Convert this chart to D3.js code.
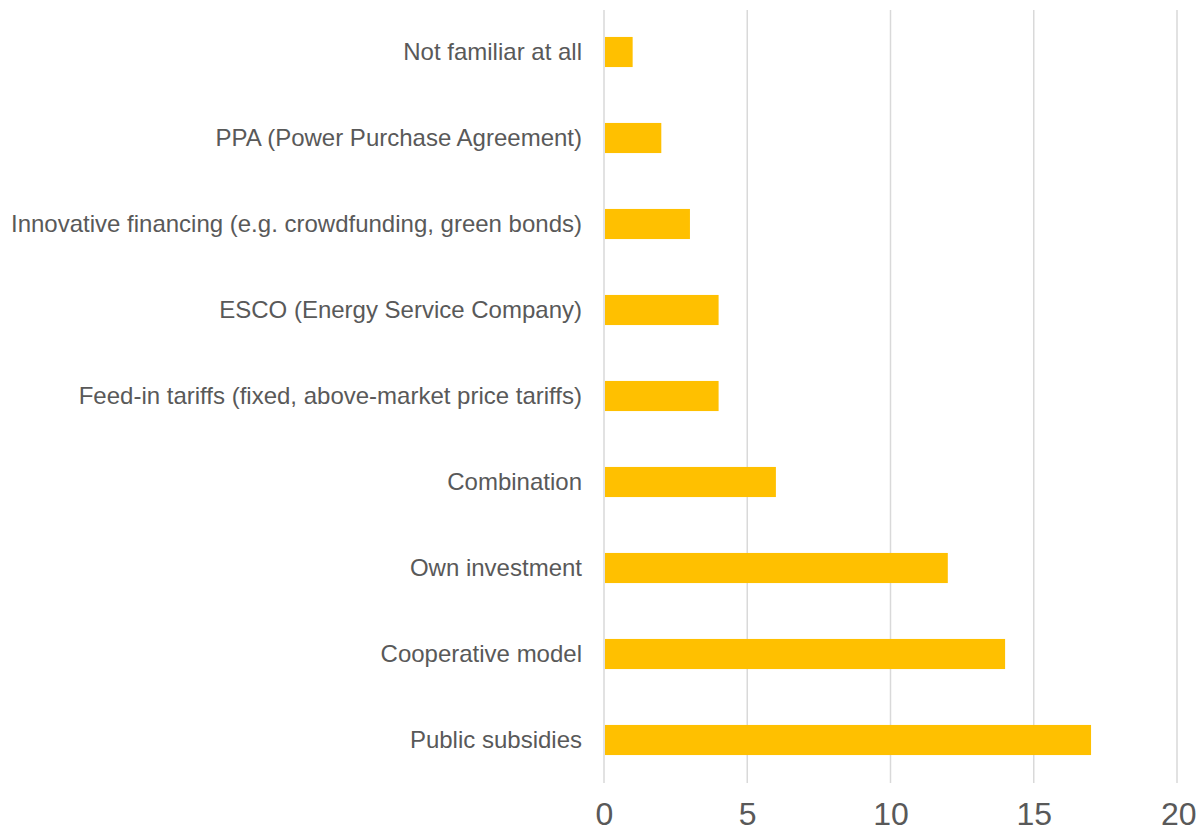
<!DOCTYPE html>
<html>
<head>
<meta charset="utf-8">
<script src="https://cdn.jsdelivr.net/npm/d3@7"></script>
<style>
  html, body { margin: 0; padding: 0; background: #fff; }
  svg { display: block; }
</style>
</head>
<body>
<svg id="chart" width="1196" height="832"></svg>
<script>
const categories = [
  "Not familiar at all",
  "PPA (Power Purchase Agreement)",
  "Innovative financing (e.g. crowdfunding, green bonds)",
  "ESCO (Energy Service Company)",
  "Feed-in tariffs (fixed, above-market price tariffs)",
  "Combination",
  "Own investment",
  "Cooperative model",
  "Public subsidies"
];
const values = [1, 2, 3, 4, 4, 6, 12, 14, 17];
const xTicks = [0, 5, 10, 15, 20];

const svg = d3.select("#chart");
const x = d3.scaleLinear().domain([0, 20]).range([604, 1177]);
const y = d3.scaleBand().domain(categories).range([9, 783])
  .paddingInner(0.65).paddingOuter(0.325);

// gridlines
svg.append("g").selectAll("line").data(xTicks).join("line")
  .attr("x1", d => x(d)).attr("x2", d => x(d))
  .attr("y1", 10).attr("y2", 783)
  .attr("stroke", "#d9d9d9").attr("stroke-width", 1.5);

// bars
svg.append("g").selectAll("rect").data(values).join("rect")
  .attr("x", x(0) + 1)
  .attr("y", (d, i) => y(categories[i]))
  .attr("width", d => x(d) - x(0) - 1)
  .attr("height", y.bandwidth())
  .attr("fill", "#FFC000");

// category labels
const yAxis = d3.axisLeft(y).tickSize(0).tickPadding(22);
const gy = svg.append("g").attr("transform", `translate(${x(0)},0)`).call(yAxis);
gy.select(".domain").remove();
gy.selectAll("text")
  .attr("fill", "#595959")
  .style("font-family", "'Liberation Sans', Arial, sans-serif")
  .style("font-size", "24px");

// x tick labels
const xAxis = d3.axisBottom(x).tickValues(xTicks).tickSize(0).tickPadding(0);
const gx = svg.append("g").attr("transform", "translate(0,825)").call(xAxis);
gx.select(".domain").remove();
gx.selectAll("text")
  .attr("fill", "#595959")
  .attr("y", 0)
  .attr("dy", "0")
  .style("font-family", "'Liberation Sans', Arial, sans-serif")
  .style("font-size", "32px");
gx.selectAll(".tick").filter(d => d === 20).select("text")
  .attr("text-anchor", "end").attr("x", 1196 - x(20));
</script>
</body>
</html>
